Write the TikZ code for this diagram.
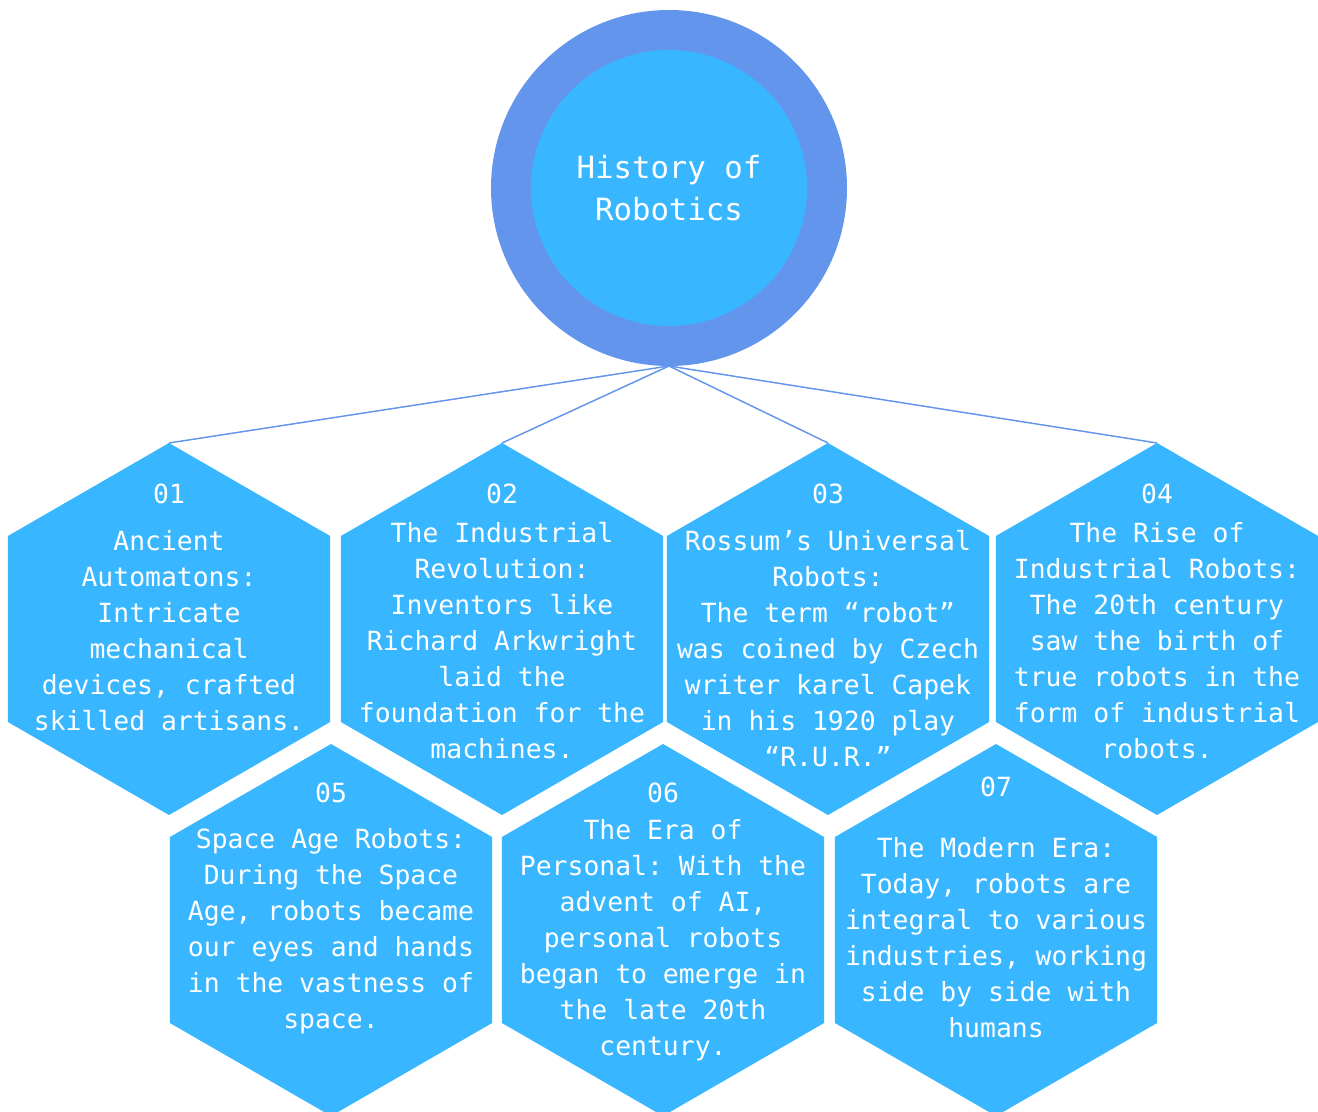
\documentclass[tikz,border=0pt]{standalone}
\usepackage{fontspec}
\setmonofont{DejaVu Sans Mono}
\usepackage{tikz}
\usetikzlibrary{shapes.geometric}
\definecolor{ringblue}{RGB}{100,149,237}
\definecolor{hexblue}{RGB}{56,182,255}

\begin{document}
\begin{tikzpicture}[
    x=0.75pt, y=-0.75pt,
    hexa/.style={regular polygon, regular polygon sides=6, shape border rotate=30, minimum size=279pt, inner sep=0pt, outer sep=0pt, fill=hexblue},
    num/.style={text=white, font=\ttfamily\fontsize{19.8}{27}\selectfont},
    txt/.style={text=white, align=center, font=\ttfamily\fontsize{19.8}{27}\selectfont},
    link/.style={draw=ringblue, line width=1.1pt}
  ]
  \useasboundingbox (0,0) rectangle (1318,1112);
  \clip (0,0) rectangle (1318,1112);

  % centre
  \node[circle, fill=ringblue, minimum size=267pt, inner sep=0pt, outer sep=0pt] (ring) at (669,188) {};
  \node[circle, fill=hexblue, minimum size=207pt, inner sep=0pt, text=white, align=center,
        font=\ttfamily\fontsize{23}{31.5}\selectfont] (hub) at (669,188) {History of\\Robotics};

  % top row
  \node[hexa] (h1) at (169,629) {};
  \node[hexa] (h2) at (502,629) {};
  \node[hexa] (h3) at (828,629) {};
  \node[hexa] (h4) at (1157,629) {};
  % bottom row
  \node[hexa] (h5) at (331,930) {};
  \node[hexa] (h6) at (663,930) {};
  \node[hexa] (h7) at (996,930) {};

  \draw[link] (ring.south) -- (h1.90);
  \draw[link] (ring.south) -- (h2.90);
  \draw[link] (ring.south) -- (h3.90);
  \draw[link] (ring.south) -- (h4.90);

  \node[num] (n1) at (169,494) {01};
  \node[txt] (t1) at (169,631) {Ancient\\Automatons:\\Intricate\\mechanical\\devices, crafted\\skilled artisans.};
  \node[num] (n2) at (502,494) {02};
  \node[txt] (t2) at (502,641) {The Industrial\\Revolution:\\Inventors like\\Richard Arkwright\\laid the\\foundation for the\\machines.};
  \node[num] (n3) at (828,494) {03};
  \node[txt] (t3) at (828,649) {Rossum’s Universal\\Robots:\\The term “robot”\\was coined by Czech\\writer karel Capek\\in his 1920 play\\“R.U.R.”};
  \node[num] (n4) at (1157,494) {04};
  \node[txt] (t4) at (1157,641) {The Rise of\\Industrial Robots:\\The 20th century\\saw the birth of\\true robots in the\\form of industrial\\robots.};
  \node[num] (n5) at (331,793) {05};
  \node[txt] (t5) at (331,931) {Space Age Robots:\\During the Space\\Age, robots became\\our eyes and hands\\in the vastness of\\space.};
  \node[num] (n6) at (663,793) {06};
  \node[txt] (t6) at (663,940) {The Era of\\Personal: With the\\advent of AI,\\personal robots\\began to emerge in\\the late 20th\\century.};
  \node[num] (n7) at (996,787) {07};
  \node[txt] (t7) at (996,938) {The Modern Era:\\Today, robots are\\integral to various\\industries, working\\side by side with\\humans};
\end{tikzpicture}
\end{document}
